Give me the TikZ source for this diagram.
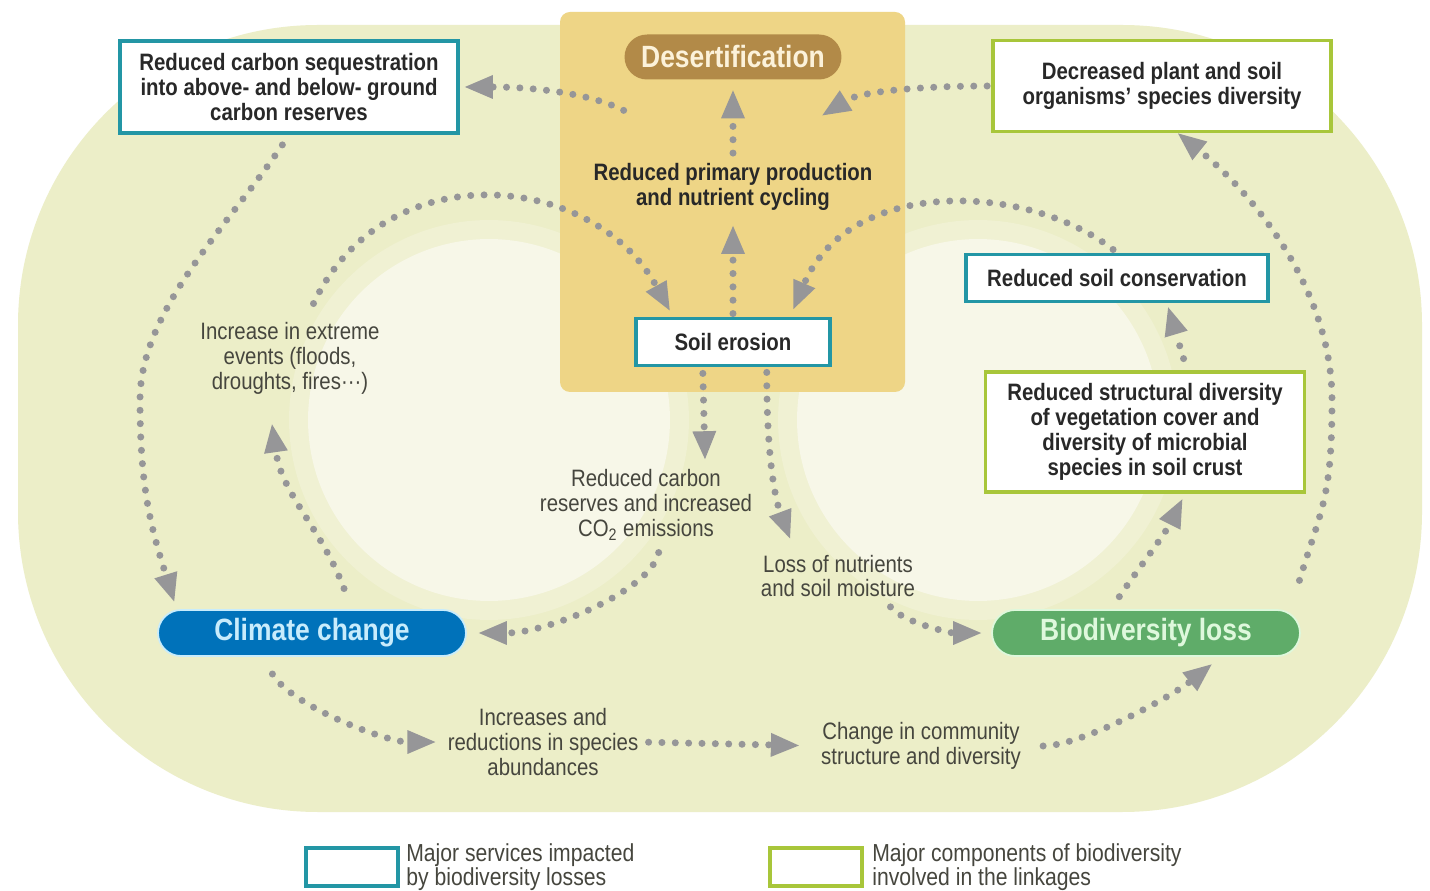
\documentclass[tikz,border=0pt]{standalone}
\usepackage{fontspec}
\setmainfont{Liberation Sans}[FakeStretch=0.86]
\usetikzlibrary{arrows.meta}

\begin{document}
\begin{tikzpicture}[x=0.02cm,y=-0.02cm,
  every node/.style={font=\fontsize{13.5}{14.2}\selectfont, align=center, inner sep=0pt},
  servicebox/.style={draw=servcolor, line width=2.2pt, fill=white, text=boxtext,
    font=\fontsize{13.5}{14.2}\selectfont\bfseries},
  biobox/.style={draw=biocolor, line width=2.2pt, fill=white, text=boxtext,
    font=\fontsize{13.5}{14.2}\selectfont\bfseries},
  pill/.style={rounded corners=0.46cm, minimum width=6.16cm, minimum height=0.92cm,
    line width=1pt, font=\fontsize{17.5}{18}\selectfont\bfseries},
  plainlabel/.style={text=labeltext},
  boldlabel/.style={text=boxtext, font=\fontsize{13.5}{14.2}\selectfont\bfseries},
  legendtext/.style={text=labeltext, align=left, anchor=west,
    font=\fontsize{14}{13.8}\selectfont},
  dotarrow/.style={draw=dotcolor, line width=4pt, line cap=round,
    dash pattern=on 0pt off 7.6pt,
    -{Triangle[length=0.56cm,width=0.48cm,line width=0pt]}}]
\definecolor{servcolor}{RGB}{35,150,165}
\definecolor{biocolor}{RGB}{168,198,58}
\definecolor{climcolor}{RGB}{0,114,186}
\definecolor{climtext}{RGB}{200,236,252}
\definecolor{biodivcolor}{RGB}{95,172,105}
\definecolor{biodivtext}{RGB}{222,248,220}
\definecolor{desertcolor}{RGB}{178,138,72}
\definecolor{deserttext}{RGB}{252,242,218}
\definecolor{zonecolor}{RGB}{238,213,134}
\definecolor{bgpale}{RGB}{236,238,200}
\definecolor{bgring}{RGB}{240,241,211}
\definecolor{bglight}{RGB}{247,247,232}
\definecolor{dotcolor}{RGB}{150,150,152}
\definecolor{boxtext}{RGB}{40,40,40}
\definecolor{labeltext}{RGB}{70,70,62}
\useasboundingbox (0,0) rectangle (1430,891);
\fill[white] (0,0) rectangle (1430,891);
% Background: outer band and the two inner loops
\fill[bgpale, rounded corners=6cm] (18,25) rectangle (1422,812);
\fill[bgring] (489,420) circle[radius=4.0cm];
\fill[bgring] (978,420) circle[radius=4.0cm];
\fill[bglight] (489,420) circle[radius=3.62cm];
\fill[bglight] (978,420) circle[radius=3.62cm];
% Desertification zone
\fill[zonecolor, rounded corners=0.2cm] (560,12) rectangle (905,392);

% Services impacted (teal) and biodiversity components (green)
\node[servicebox, minimum width=6.76cm, minimum height=1.84cm] (seqbox) at (289,87)
  {Reduced carbon sequestration\\into above- and below- ground\\carbon reserves};
\node[servicebox, minimum width=3.88cm, minimum height=0.94cm] (soilero) at (733,342)
  {Soil erosion};
\node[servicebox, minimum width=6.04cm, minimum height=0.94cm] (soilcons) at (1117,278)
  {Reduced soil conservation};
\node[biobox, minimum width=6.76cm, minimum height=1.82cm] (decbox) at (1162,86)
  {Decreased plant and soil\\organisms' species diversity};
\node[biobox, minimum width=6.38cm, minimum height=2.4cm] (structbox) at (1145,432)
  {Reduced structural diversity\\of vegetation cover and\\diversity of microbial\\species in soil crust};

% Main drivers
\node[pill, fill=desertcolor, text=deserttext, minimum width=4.34cm, minimum height=0.9cm,
  rounded corners=0.45cm] (desert) at (733,57) {Desertification};
\node[pill, fill=climcolor, draw=climtext, text=climtext] (climate) at (312,633) {Climate change};
\node[pill, fill=biodivcolor, draw=biodivtext, text=biodivtext] (biodiv) at (1146,633) {Biodiversity loss};

% Intermediate effects
\node[boldlabel] (primprod) at (733,187) {Reduced primary production\\and nutrient cycling};
\node[plainlabel] (extreme) at (290,358) {Increase in extreme\\events (floods,\\droughts, fires···)};
\node[plainlabel] (carbonres) at (646,505) {Reduced carbon\\reserves and increased\\CO\textsubscript{2} emissions};
\node[plainlabel] (nutrient) at (838,576) {Loss of nutrients\\and soil moisture};
\node[plainlabel] (abund) at (543,742) {Increases and\\reductions in species\\abundances};
\node[plainlabel] (community) at (921,746) {Change in community\\structure and diversity};

% Dotted links
\draw[dotarrow, shorten <=0.24cm, shorten >=0.16cm] (seqbox.south)
  .. controls +(-60,90) and +(0,-90) .. (140,400)
  .. controls +(0,90) and +(-25,-80) .. (climate.170);
\draw[dotarrow, shorten <=0.44cm] (climate.31)
  .. controls +(-30,-80) and +(10,70) .. ([xshift=-0.36cm,yshift=-0.6cm]extreme.south);
\draw[dotarrow, shorten <=0.4cm, shorten >=0.14cm] ([xshift=0.3cm]extreme.north)
  .. controls +(80,-170) and +(-80,-145) .. (soilero.157);
\draw[dotarrow, shorten <=0.12cm] (soilero.-140) -- ([xshift=1.18cm,yshift=0.2cm]carbonres.north);
\draw[dotarrow, shorten <=0.24cm, shorten >=0.24cm] ([xshift=0.3cm]carbonres.south)
  .. controls +(-10,50) and +(80,0) .. (climate.east);
\draw[dotarrow, shorten <=0.1cm] (soilero.-37)
  .. controls +(0,90) and +(-15,-40) .. ([xshift=-0.96cm,yshift=0.32cm]nutrient.north);
\draw[dotarrow, shorten <=0.24cm, shorten >=0.2cm] ([xshift=0.9cm]nutrient.south)
  .. controls +(20,25) and +(-40,0) .. (biodiv.west);
\draw[dotarrow, shorten <=0.06cm, shorten >=0.3cm] (soilero.north) -- (primprod.south);
\draw[dotarrow, shorten <=0.2cm, shorten >=0.2cm] (primprod.north) -- (desert.south);
\draw[dotarrow, shorten >=0.1cm] ([yshift=-0.6cm]desert.south west)
  .. controls +(-40,-20) and +(60,0) .. (seqbox.east);
\draw[dotarrow, shorten <=0.08cm] (decbox.west)
  .. controls +(-60,0) and +(40,-25) .. ([xshift=-0.4cm,yshift=-0.7cm]desert.south east);
\draw[dotarrow, shorten <=0.1cm, shorten >=0.16cm] (soilcons.north)
  .. controls +(-90,-70) and +(60,-140) .. (soilero.24);
\draw[dotarrow, shorten <=0.24cm, shorten >=0.08cm] ([xshift=0.84cm]structbox.north) -- ([xshift=1.0cm]soilcons.south);
\draw[dotarrow, shorten <=0.3cm, shorten >=0.12cm] ([xshift=-0.7cm]biodiv.north)
  .. controls +(20,-30) and +(-20,40) .. ([xshift=0.8cm]structbox.south);
\draw[dotarrow, shorten <=0.6cm] ([xshift=-0.2cm]biodiv.north east)
  .. controls +(30,-100) and +(0,100) .. (1332,400)
  .. controls +(0,-110) and +(75,60) .. ([xshift=0.32cm]decbox.south);
\draw[dotarrow, shorten <=0.4cm, shorten >=0.24cm] ([xshift=2.1cm]climate.south west)
  .. controls +(30,50) and +(-60,0) .. (abund.west);
\draw[dotarrow, shorten <=0.2cm, shorten >=0.44cm] (abund.east) -- (community.west);
\draw[dotarrow, shorten <=0.44cm, shorten >=0.24cm] (community.east)
  .. controls +(60,0) and +(-50,40) .. ([xshift=1.5cm]biodiv.south);

% Legend
\node[servicebox, minimum width=1.84cm, minimum height=0.76cm] (legserv) at (352,867) {};
\node[legendtext] (legservtext) at (406,867) {Major services impacted\\by biodiversity losses};
\node[biobox, minimum width=1.84cm, minimum height=0.76cm] (legbio) at (816,867) {};
\node[legendtext] (legbiotext) at (872,867) {Major components of biodiversity\\involved in the linkages};
\end{tikzpicture}
\end{document}
